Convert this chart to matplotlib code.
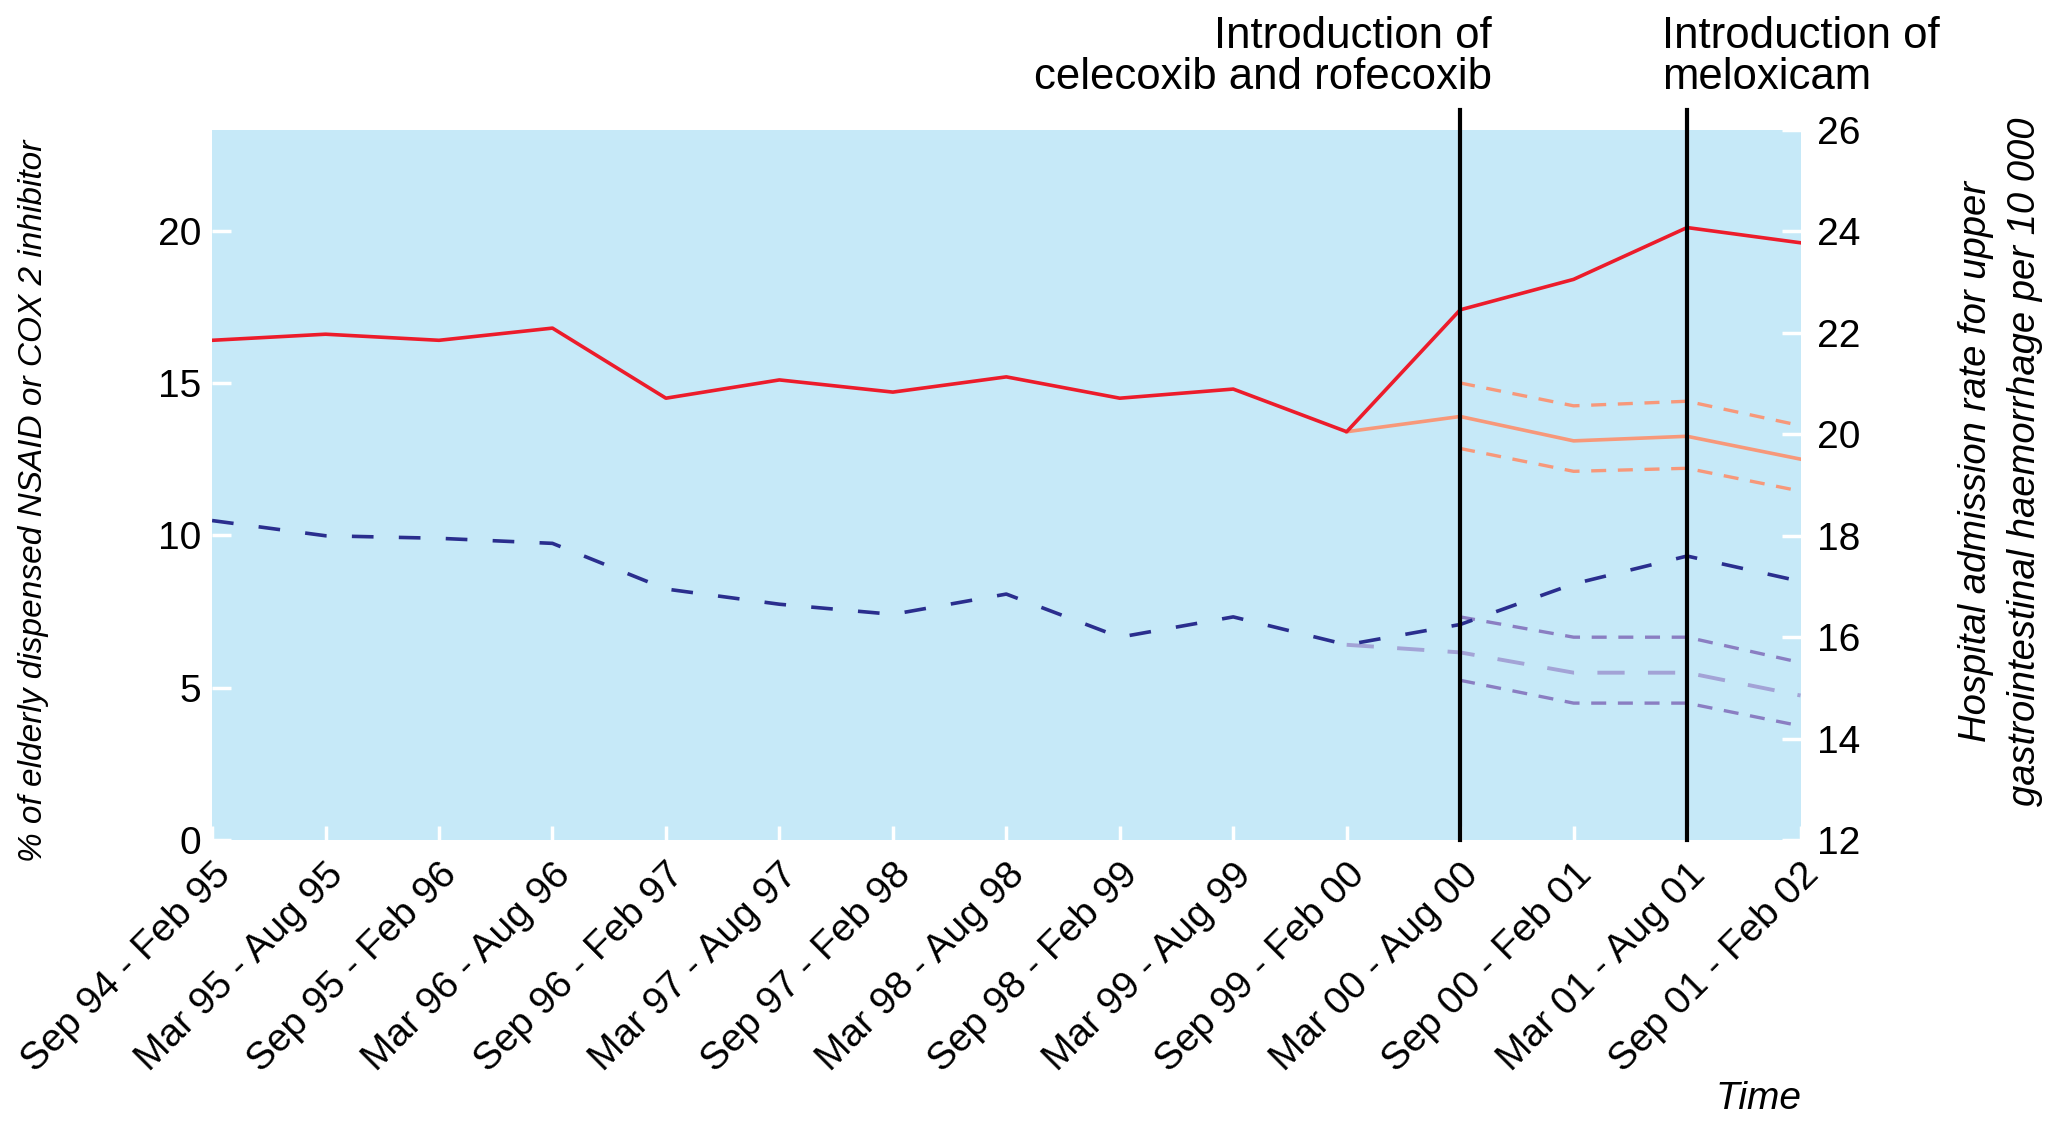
import matplotlib
matplotlib.use("Agg")
import matplotlib.pyplot as plt
import matplotlib.transforms as mtransforms

plt.rcParams['font.family'] = ['Liberation Sans', 'DejaVu Sans']

periods = ["Sep 94 - Feb 95", "Mar 95 - Aug 95", "Sep 95 - Feb 96", "Mar 96 - Aug 96",
           "Sep 96 - Feb 97", "Mar 97 - Aug 97", "Sep 97 - Feb 98", "Mar 98 - Aug 98",
           "Sep 98 - Feb 99", "Mar 99 - Aug 99", "Sep 99 - Feb 00", "Mar 00 - Aug 00",
           "Sep 00 - Feb 01", "Mar 01 - Aug 01", "Sep 01 - Feb 02"]

# % of elderly dispensed NSAID or COX 2 inhibitor (left axis)
pct_dispensed = [16.4, 16.6, 16.4, 16.8, 14.5, 15.1, 14.7, 15.2, 14.5, 14.8, 13.4, 17.4, 18.4, 20.1, 19.6]
# expected after Sep 99 - Feb 00, with upper / lower limits
pct_expected = [13.4, 13.9, 13.1, 13.25, 12.5]
pct_upper = [15.0, 14.25, 14.4, 13.6]
pct_lower = [12.85, 12.1, 12.2, 11.45]

# hospital admission rate per 10 000 (right axis)
admission = [18.3, 18.0, 17.95, 17.85, 16.95, 16.65, 16.45, 16.85, 16.0, 16.4, 15.85, 16.25, 17.05, 17.6, 17.1]
adm_expected = [15.85, 15.7, 15.3, 15.3, 14.85]
adm_upper = [16.4, 16.0, 16.0, 15.5]
adm_lower = [15.15, 14.7, 14.7, 14.25]

x = list(range(len(periods)))
x_exp = x[10:]
x_band = x[11:]

bg = "#c6e9f8"
red = "#ec1c2b"
orange = "#f7987a"
navy = "#2a2e8e"
purple = "#8a7ec2"
light_purple = "#a3a3d6"

fig = plt.figure(figsize=(20.71, 11.25), dpi=100)
ax = fig.add_axes([0.1024, 0.2533, 0.767, 0.6311])
ax.set_facecolor(bg)
ax2 = ax.twinx()

ax.plot(x, pct_dispensed, color=red, lw=2.6, zorder=4)
ax.plot(x_exp, pct_expected, color=orange, lw=2.6, zorder=3)
ax.plot(x_band, pct_upper, color=orange, lw=2.4, dashes=(4.5, 3.5), zorder=3)
ax.plot(x_band, pct_lower, color=orange, lw=2.4, dashes=(4.5, 3.5), zorder=3)

ax2.plot(x, admission, color=navy, lw=2.6, dashes=(6, 7), zorder=4)
ax2.plot(x_exp, adm_expected, color=light_purple, lw=2.8, dashes=(7, 6), zorder=3)
ax2.plot(x_band, adm_upper, color=purple, lw=2.4, dashes=(4.5, 3.5), zorder=3)
ax2.plot(x_band, adm_lower, color=purple, lw=2.4, dashes=(4.5, 3.5), zorder=3)

ax.set_xlim(0, len(periods) - 1)
ax.set_ylim(0, 23.3)
ax.set_yticks([0, 5, 10, 15, 20])
ax2.set_ylim(12, 26)
ax2.set_yticks(range(12, 27, 2))

ax.set_xticks(x)
ax.set_xticklabels(periods, rotation=45, ha='right', va='top', rotation_mode='anchor', fontsize=28)
ax.tick_params(axis='x', direction='in', length=10, width=2.5, color='white', pad=12)
ax.tick_params(axis='y', direction='in', length=14, width=2.5, color='white', pad=8, labelsize=28)
ax2.tick_params(axis='y', direction='in', length=14, width=2.5, color='white', pad=12, labelsize=28)

for a in (ax, ax2):
    for s in a.spines.values():
        s.set_visible(False)

# introduction markers
trans = mtransforms.blended_transform_factory(ax2.transData, ax2.transAxes)
for xi in (11, 13):
    ax2.plot([xi, xi], [0, 1.028], transform=trans, color='black', lw=3, clip_on=False, zorder=6)

ax2.text(11.28, 1.045, "Introduction of\ncelecoxib and rofecoxib", transform=trans,
         ha='right', va='bottom', fontsize=31.5, linespacing=1.0, multialignment='right')
ax2.text(12.78, 1.045, "Introduction of\nmeloxicam", transform=trans,
         ha='left', va='bottom', fontsize=31.5, linespacing=1.0, multialignment='left')

fig.text(0.016, 0.555, "% of elderly dispensed NSAID or COX 2 inhibitor", rotation=90,
         ha='center', va='center', fontsize=24, style='italic')
fig.text(0.966, 0.59, "Hospital admission rate for upper\ngastrointestinal haemorrhage per 10 000",
         rotation=90, ha='center', va='center', fontsize=27.5, style='italic', linespacing=1.45)
fig.text(0.8697, 0.023, "Time", ha='right', va='center', fontsize=28, style='italic')

fig.savefig("out.png", dpi=100)
